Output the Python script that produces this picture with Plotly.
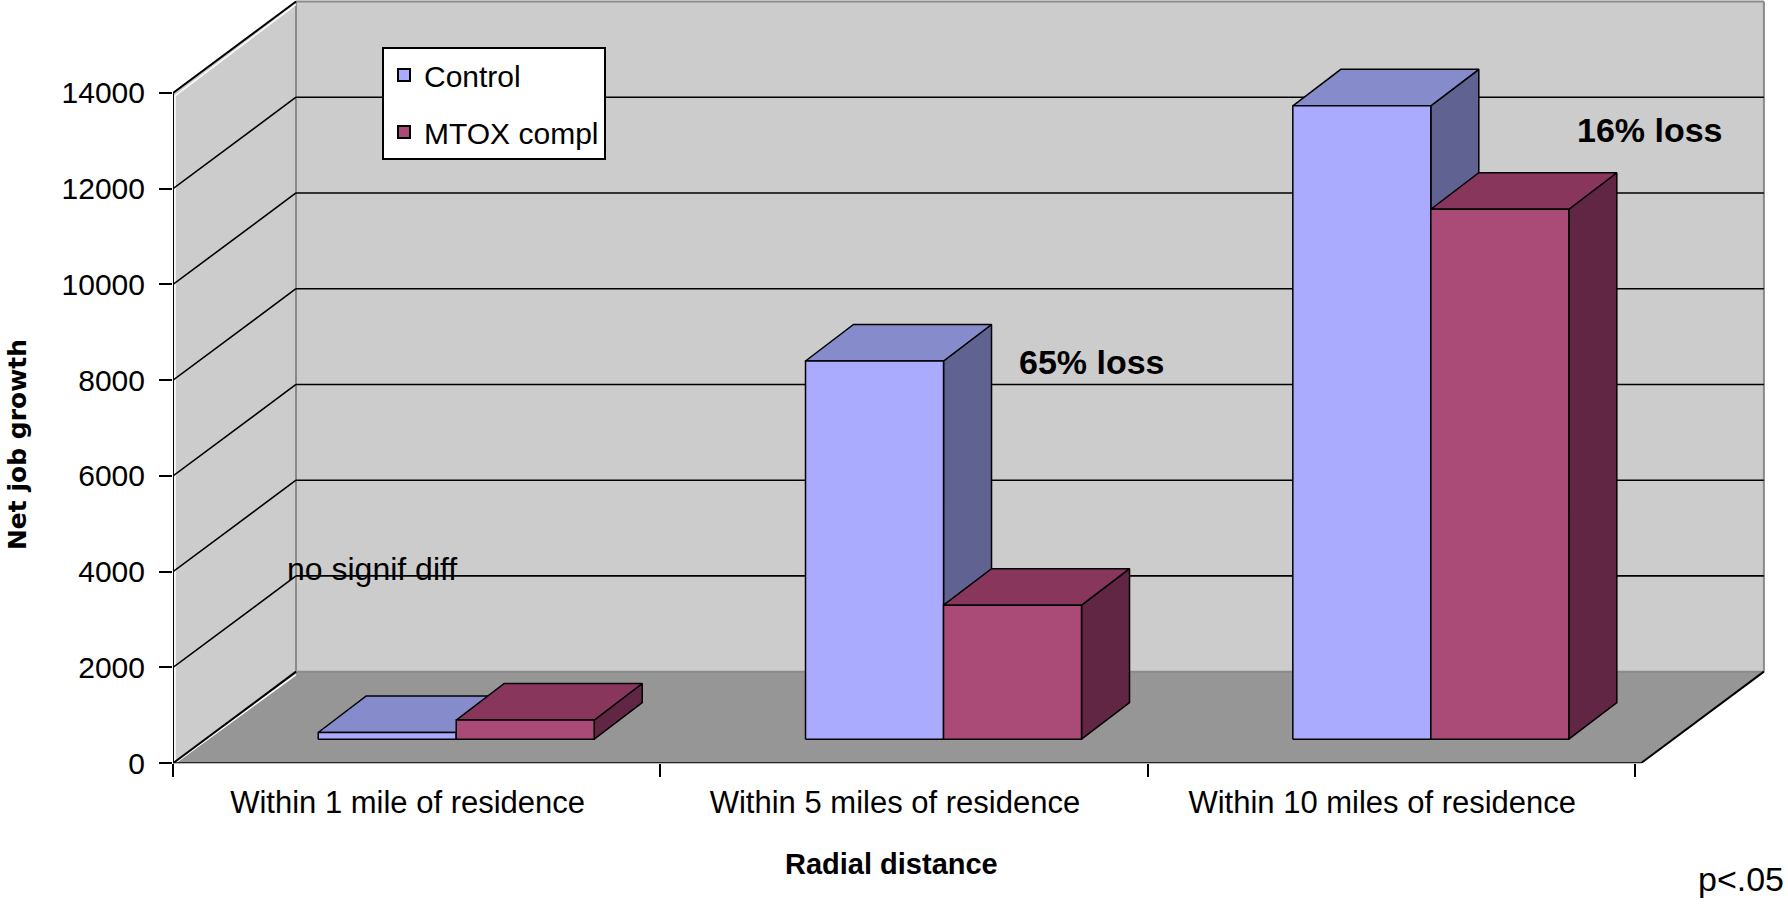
import plotly.graph_objects as go

# ---------------- data ----------------
categories = ["Within 1 mile of residence", "Within 5 miles of residence", "Within 10 miles of residence"]
series_names = ["Control", "MTOX compl"]
control_values = [140, 7900, 13230]
mtox_values = [400, 2800, 11070]
y_tick_values = [0, 2000, 4000, 6000, 8000, 10000, 12000, 14000]

# ---------------- styles ----------------
control_colors = dict(front="#AAAAFF", top="#868BCC", side="#606292")
mtox_colors = dict(front="#AA4A76", top="#88365C", side="#612644")
series_colors = [control_colors, mtox_colors]
series_values = [control_values, mtox_values]
WALL = "#CCCCCC"
FLOOR = "#969696"
EDGE_GRAY = "#8A8A8A"
FONT = "Liberation Sans, Arial, sans-serif"

# ---------------- geometry (pixel layout) ----------------
W, H = 1788, 906
SY = 1.0 / 0.981       # vertical compensation factor for rendering
AX_PX = 173.0          # front value axis x position (px)
CAT_PX = 487.3         # px per category
ZERO_PX = 763.0 * SY   # front zero line y (px)
PX_PER_UNIT = 0.04786 * SY  # px per value unit

X_MAX = (W - AX_PX) / CAT_PX
Y_MAX = ZERO_PX / PX_PER_UNIT

DX = 123.0 / CAT_PX                 # wall depth in x (category units)
DV = 91.5 * SY / PX_PER_UNIT        # wall depth in value units
FLOOR_END = len(categories) + 6.0 / CAT_PX
VMAX = y_tick_values[-1]

BAR_W = 138.0 / CAT_PX
BAR_LEFT = 0.298                         # first bar front-left offset in category
BAR_BASE = 24.0 * SY / PX_PER_UNIT       # front face base lift
BDX = 48.0 / CAT_PX                      # bar depth in x
BDV = 36.5 * SY / PX_PER_UNIT            # bar depth in value units

fig = go.Figure()


def poly(xs, ys, fill, line_color="black", line_width=1.5):
    fig.add_trace(go.Scatter(
        x=list(xs) + [xs[0]], y=list(ys) + [ys[0]],
        mode="lines", fill="toself", fillcolor=fill,
        line=dict(color=line_color, width=line_width),
        hoverinfo="skip", showlegend=False))


def segs(segments, color, width):
    xs, ys = [], []
    for (xa, ya), (xb, yb) in segments:
        xs += [xa, xb, None]
        ys += [ya, yb, None]
    fig.add_trace(go.Scatter(x=xs, y=ys, mode="lines",
                             line=dict(color=color, width=width),
                             hoverinfo="skip", showlegend=False))


# walls and floor
poly([DX, FLOOR_END + DX, FLOOR_END + DX, DX], [DV, DV, VMAX + DV, VMAX + DV], WALL, "rgba(0,0,0,0)", 0)
poly([0, 0, DX, DX], [0, VMAX, VMAX + DV, DV], WALL, "rgba(0,0,0,0)", 0)
poly([0, FLOOR_END, FLOOR_END + DX, DX], [0, 0, DV, DV], FLOOR, "rgba(0,0,0,0)", 0)

# gray wall edges
segs([((DX, DV), (DX, VMAX + DV)),
      ((DX, VMAX + DV), (FLOOR_END + DX, VMAX + DV)),
      ((FLOOR_END + DX, DV), (FLOOR_END + DX, VMAX + DV)),
      ((DX, DV), (FLOOR_END + DX, DV))], EDGE_GRAY, 2)

# white highlights under the diagonals
segs([((0.004, 0), (DX, DV - 60)), ((0.004, VMAX - 60), (DX, VMAX + DV - 60)),
      ((0.004, 0), (0.004, VMAX - 60))], "white", 1.5)

# gridlines
grid = []
for v in y_tick_values[1:-1]:
    grid.append(((0, v), (DX, v + DV)))
    grid.append(((DX, v + DV), (FLOOR_END + DX, v + DV)))
segs(grid, "black", 1.6)

# black edges
segs([((0, 0), (0, VMAX)),
      ((0, VMAX), (DX, VMAX + DV)),
      ((0, 0), (DX, DV)),
      ((0, 0), (FLOOR_END, 0)),
      ((FLOOR_END, 0), (FLOOR_END + DX, DV))], "black", 2)

# bars
for ci in range(len(categories)):
    for si, (vals, cols) in enumerate(zip(series_values, series_colors)):
        v = vals[ci]
        x0 = ci + BAR_LEFT + si * BAR_W
        x1 = x0 + BAR_W
        b = BAR_BASE
        t = BAR_BASE + v
        poly([x1, x1 + BDX, x1 + BDX, x1], [b, b + BDV, t + BDV, t], cols["side"])
        poly([x0, x1, x1 + BDX, x0 + BDX], [t, t, t + BDV, t + BDV], cols["top"])
        poly([x0, x1, x1, x0], [b, b, t, t], cols["front"])

# legend entries
for si, (name, cols) in enumerate(zip(series_names, series_colors)):
    fig.add_trace(go.Scatter(
        x=[None], y=[None], mode="markers", name=name, legendgroup=f"g{si}",
        marker=dict(symbol="square", size=14, color=cols["front"],
                    line=dict(color="black", width=1.5))))


def px_x(p):
    return p / W


def px_y(p):
    return 1 - p * SY / H


annotations = [
    dict(text="<b>65% loss</b>", x=px_x(1092), y=px_y(362), size=34),
    dict(text="<b>16% loss</b>", x=px_x(1650), y=px_y(130), size=34),
    dict(text="no signif diff", x=px_x(372), y=px_y(569), size=32),
    dict(text="<b>Radial distance</b>", x=px_x(891), y=px_y(864), size=29),
]
for a in annotations:
    fig.add_annotation(text=a["text"], x=a["x"], y=a["y"], xref="paper", yref="paper",
                       xanchor="center", yanchor="middle", showarrow=False,
                       font=dict(family=FONT, size=a["size"], color="black"))
fig.add_annotation(text="p<.05", x=px_x(1786), y=1 - 896 / H, xref="paper", yref="paper",
                   xanchor="right", yanchor="middle", showarrow=False,
                   font=dict(family=FONT, size=34, color="black"))
fig.add_annotation(text="<b>Net job growth</b>", x=px_x(17), y=px_y(445), xref="paper", yref="paper",
                   xanchor="center", yanchor="middle", showarrow=False, textangle=-90,
                   font=dict(family="DejaVu Sans, sans-serif", size=25, color="black"))

fig.update_layout(
    width=W, height=H,
    margin=dict(l=0, r=0, t=0, b=0),
    paper_bgcolor="white", plot_bgcolor="rgba(0,0,0,0)",
    font=dict(family=FONT, size=30, color="black"),
    showlegend=True,
    legend=dict(x=px_x(382), y=px_y(47), xanchor="left", yanchor="top",
                bgcolor="white", bordercolor="black", borderwidth=2,
                font=dict(family=FONT, size=30, color="black"),
                tracegroupgap=15, itemsizing="constant"),
    xaxis=dict(domain=[AX_PX / W, 1], range=[0, X_MAX], showgrid=False, zeroline=False,
               showline=False, tickmode="array",
               tickvals=[i + 0.4815 for i in range(len(categories))], ticktext=categories,
               ticks="", ticklabelstandoff=18,
               tickfont=dict(family=FONT, size=31, color="black"),
               minor=dict(tickmode="linear", tick0=0, dtick=1, ticks="outside",
                          ticklen=13, tickwidth=1.5, tickcolor="black", showgrid=False)),
    yaxis=dict(domain=[(H - ZERO_PX) / H, 1], range=[0, Y_MAX], showgrid=False, zeroline=False,
               showline=False, tickmode="array", tickvals=y_tick_values,
               ticktext=[str(v) for v in y_tick_values],
               ticks="outside", ticklen=13, tickwidth=1.5, tickcolor="black",
               ticklabelstandoff=8,
               tickfont=dict(family=FONT, size=30, color="black")),
)

fig.write_html("out.html")
